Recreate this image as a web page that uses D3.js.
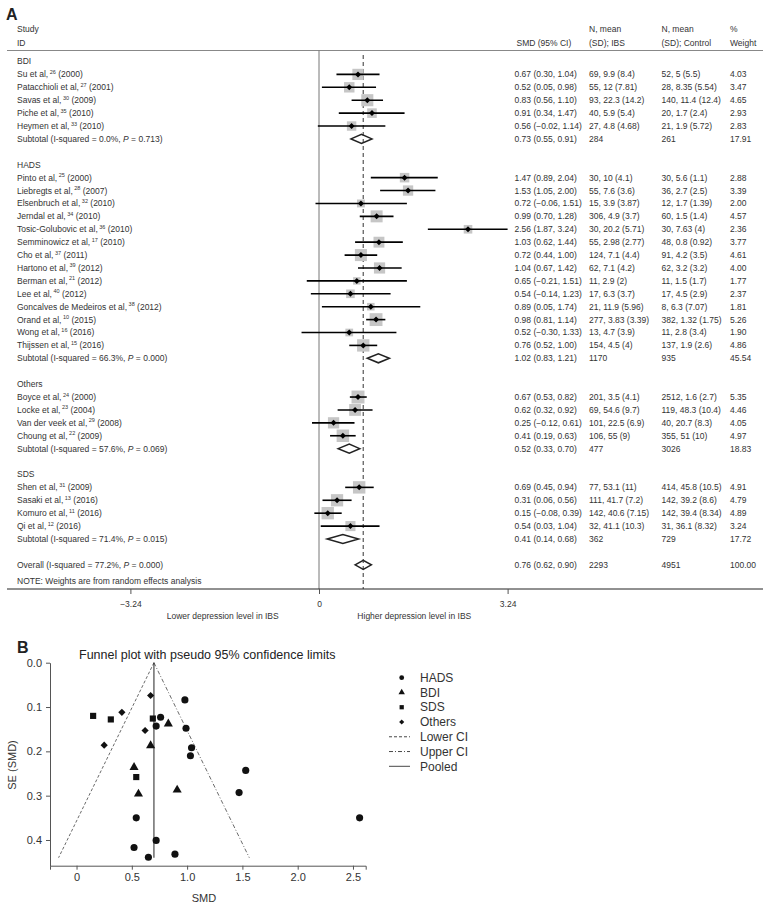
<!DOCTYPE html>
<html>
<head>
<meta charset="utf-8">
<script src="https://cdn.jsdelivr.net/npm/d3@7"></script>
<style>
  html, body { margin: 0; padding: 0; background: #fff; }
  svg text { font-family: "Liberation Sans", Arial, Helvetica, sans-serif; }
</style>
</head>
<body>
<svg id="chart" width="770" height="910"></svg>
<script>
// ---------------- DATA ----------------
const groupNames = ["BDI", "HADS", "Others", "SDS"];

const studyNames = [
  "Su et al,", "Patacchioli et al,", "Savas et al,", "Piche et al,", "Heymen et al,",
  "Pinto et al,", "Liebregts et al,", "Elsenbruch et al,", "Jerndal et al,", "Tosic-Golubovic et al,",
  "Semminowicz et al,", "Cho et al,", "Hartono et al,", "Berman et al,", "Lee et al,",
  "Goncalves de Medeiros et al,", "Orand et al,", "Wong et al,", "Thijssen et al,",
  "Boyce et al,", "Locke et al,", "Van der veek et al,", "Choung et al,",
  "Shen et al,", "Sasaki et al,", "Komuro et al,", "Qi et al,"
];
const studyRefs = ["26","27","30","35","33", "25","28","32","34","36","17","37","39","21","40","38","10","16","15", "24","23","29","22", "31","13","11","12"];
const studyYears = ["2000","2001","2009","2010","2010", "2000","2007","2010","2010","2010","2010","2011","2012","2012","2012","2012","2015","2016","2016", "2000","2004","2008","2009", "2009","2016","2016","2016"];
const studyGroup = ["BDI","BDI","BDI","BDI","BDI",
  "HADS","HADS","HADS","HADS","HADS","HADS","HADS","HADS","HADS","HADS","HADS","HADS","HADS","HADS",
  "Others","Others","Others","Others",
  "SDS","SDS","SDS","SDS"];
const smd    = [0.67, 0.52, 0.83, 0.91, 0.56, 1.47, 1.53, 0.72, 0.99, 2.56, 1.03, 0.72, 1.04, 0.65, 0.54, 0.89, 0.98, 0.52, 0.76, 0.67, 0.62, 0.25, 0.41, 0.69, 0.31, 0.15, 0.54];
const ciLow  = [0.30, 0.05, 0.56, 0.34, -0.02, 0.89, 1.05, -0.06, 0.70, 1.87, 0.62, 0.44, 0.67, -0.21, -0.14, 0.05, 0.81, -0.30, 0.52, 0.53, 0.32, -0.12, 0.19, 0.45, 0.06, -0.08, 0.03];
const ciHigh = [1.04, 0.98, 1.10, 1.47, 1.14, 2.04, 2.00, 1.51, 1.28, 3.24, 1.44, 1.00, 1.42, 1.51, 1.23, 1.74, 1.14, 1.33, 1.00, 0.82, 0.92, 0.61, 0.63, 0.94, 0.56, 0.39, 1.04];
const nIbs = ["69, 9.9 (8.4)", "55, 12 (7.81)", "93, 22.3 (14.2)", "40, 5.9 (5.4)", "27, 4.8 (4.68)",
  "30, 10 (4.1)", "55, 7.6 (3.6)", "15, 3.9 (3.87)", "306, 4.9 (3.7)", "30, 20.2 (5.71)", "55, 2.98 (2.77)",
  "124, 7.1 (4.4)", "62, 7.1 (4.2)", "11, 2.9 (2)", "17, 6.3 (3.7)", "21, 11.9 (5.96)", "277, 3.83 (3.39)",
  "13, 4.7 (3.9)", "154, 4.5 (4)",
  "201, 3.5 (4.1)", "69, 54.6 (9.7)", "101, 22.5 (6.9)", "106, 55 (9)",
  "77, 53.1 (11)", "111, 41.7 (7.2)", "142, 40.6 (7.15)", "32, 41.1 (10.3)"];
const nControl = ["52, 5 (5.5)", "28, 8.35 (5.54)", "140, 11.4 (12.4)", "20, 1.7 (2.4)", "21, 1.9 (5.72)",
  "30, 5.6 (1.1)", "36, 2.7 (2.5)", "12, 1.7 (1.39)", "60, 1.5 (1.4)", "30, 7.63 (4)", "48, 0.8 (0.92)",
  "91, 4.2 (3.5)", "62, 3.2 (3.2)", "11, 1.5 (1.7)", "17, 4.5 (2.9)", "8, 6.3 (7.07)", "382, 1.32 (1.75)",
  "11, 2.8 (3.4)", "137, 1.9 (2.6)",
  "2512, 1.6 (2.7)", "119, 48.3 (10.4)", "40, 20.7 (8.3)", "355, 51 (10)",
  "414, 45.8 (10.5)", "142, 39.2 (8.6)", "142, 39.4 (8.34)", "31, 36.1 (8.32)"];
const weights = [4.03, 3.47, 4.65, 2.93, 2.83, 2.88, 3.39, 2.00, 4.57, 2.36, 3.77, 4.61, 4.00, 1.77, 2.37, 1.81, 5.26, 1.90, 4.86, 5.35, 4.46, 4.05, 4.97, 4.91, 4.79, 4.89, 3.24];
// standard errors as plotted in the funnel plot
const studySE = [0.187, 0.236, 0.138, 0.287, 0.296, 0.293, 0.243, 0.401, 0.148, 0.350, 0.210, 0.143, 0.192, 0.439, 0.350, 0.432, 0.084, 0.417, 0.123, 0.074, 0.153, 0.186, 0.112, 0.126, 0.128, 0.120, 0.258];

const subI2    = ["0.0%", "66.3%", "57.6%", "71.4%"];
const subP     = ["0.713", "0.000", "0.069", "0.015"];
const subSmd   = [0.73, 1.02, 0.52, 0.41];
const subLow   = [0.55, 0.83, 0.33, 0.14];
const subHigh  = [0.91, 1.21, 0.70, 0.68];
const subNIbs  = ["284", "1170", "477", "362"];
const subNCtrl = ["261", "935", "3026", "729"];
const subW     = ["17.91", "45.54", "18.83", "17.72"];

const overall = { i2: "77.2%", p: "0.000", smd: 0.76, lo: 0.62, hi: 0.90, nIbs: "2293", nCtrl: "4951", w: "100.00" };

const forestTicks = [-3.24, 0, 3.24];
const funnelXTicks = [0, 0.5, 1.0, 1.5, 2.0, 2.5];
const funnelYTicks = [0, 0.1, 0.2, 0.3, 0.4];
const pooledSMD = 0.70;
const maxSE = 0.44;
const legendLabels = ["HADS", "BDI", "SDS", "Others", "Lower CI", "Upper CI", "Pooled"];

// ---------------- BUILD ----------------
const svg = d3.select("#chart");
const TXT = "#333";
const FS = 8.5;
const fmt = d3.format(".2f");

// ===== Panel A: forest plot =====
svg.append("text").attr("x", 6).attr("y", 20).attr("font-size", 16).attr("font-weight", "bold").attr("fill", "#222").text("A");

// rows
const rows = [];
groupNames.forEach((g, gi) => {
  rows.push({ type: "group", label: g });
  studyGroup.forEach((sg, i) => { if (sg === g) rows.push({ type: "study", i }); });
  rows.push({ type: "sub", gi });
  rows.push({ type: "blank" });
});
rows.push({ type: "overall" });

const x = d3.scaleLinear().domain([-3.24, 3.24]).range([130.4, 507.6]);
const y = d3.scaleLinear().domain([0, rows.length - 1]).range([61.5, 564.8]);

const colSMD = 514.5, colIbs = 589, colCtrl = 661.5, colW = 730;

// header
const hdr = svg.append("g").attr("font-size", FS).attr("fill", TXT);
hdr.append("text").attr("x", 17).attr("y", 29).attr("dy", "0.35em").text("Study");
hdr.append("text").attr("x", 17).attr("y", 43).attr("dy", "0.35em").text("ID");
hdr.append("text").attr("x", colSMD + 2).attr("y", 43).attr("dy", "0.35em").text("SMD (95% CI)");
hdr.append("text").attr("x", colIbs).attr("y", 29).attr("dy", "0.35em").text("N, mean");
hdr.append("text").attr("x", colIbs).attr("y", 43).attr("dy", "0.35em").text("(SD); IBS");
hdr.append("text").attr("x", colCtrl).attr("y", 29).attr("dy", "0.35em").text("N, mean");
hdr.append("text").attr("x", colCtrl).attr("y", 43).attr("dy", "0.35em").text("(SD); Control");
hdr.append("text").attr("x", colW).attr("y", 29).attr("dy", "0.35em").text("%");
hdr.append("text").attr("x", colW).attr("y", 43).attr("dy", "0.35em").text("Weight");
svg.append("line").attr("x1", 7).attr("x2", 763).attr("y1", 50.5).attr("y2", 50.5).attr("stroke", "#888").attr("stroke-width", 1);

// zero line & overall dashed line
svg.append("line").attr("x1", x(0)).attr("x2", x(0)).attr("y1", 50.5).attr("y2", 589).attr("stroke", "#777").attr("stroke-width", 1);
svg.append("line").attr("x1", x(overall.smd)).attr("x2", x(overall.smd)).attr("y1", 55).attr("y2", 589)
  .attr("stroke", "#555").attr("stroke-width", 1.2).attr("stroke-dasharray", "4,3");

const g = svg.append("g").attr("font-size", FS).attr("fill", TXT);

function labelWithSup(sel, name, ref, year) {
  const t = sel.append("text").attr("x", 17).attr("dy", "0.35em");
  t.append("tspan").text(name);
  t.append("tspan").attr("dx", 1.5).attr("dy", -3.5).attr("font-size", 5.5).text(ref);
  t.append("tspan").attr("dy", 3.5).text("\u00a0(" + year + ")");
  return t;
}
function labelWithP(sel, prefix, i2, p) {
  const t = sel.append("text").attr("x", 17).attr("dy", "0.35em");
  t.append("tspan").text(prefix + " (I-squared = " + i2 + ", ");
  t.append("tspan").attr("font-style", "italic").text("P");
  t.append("tspan").text(" = " + p + ")");
  return t;
}
function diamond(sel, yy, lo, mid, hi) {
  const h = 4.5;
  sel.append("path")
    .attr("d", `M${x(lo)},${yy} L${x(mid)},${yy - h} L${x(hi)},${yy} L${x(mid)},${yy + h} Z`)
    .attr("fill", "none").attr("stroke", "#222").attr("stroke-width", 1.5);
}
function numCols(sel, yy, a, b, c, d) {
  [[colSMD, a], [colIbs, b], [colCtrl, c], [colW, d]].forEach(([cx, v]) =>
    sel.append("text").attr("x", cx).attr("y", yy).attr("dy", "0.35em").text(v));
}

rows.forEach((r, ri) => {
  const yy = y(ri);
  const row = g.append("g");
  if (r.type === "group") {
    row.append("text").attr("x", 17).attr("y", yy).attr("dy", "0.35em").text(r.label);
  } else if (r.type === "study") {
    const i = r.i;
    labelWithSup(row, studyNames[i], studyRefs[i], studyYears[i]).attr("y", yy);
    const side = 5.6 * Math.sqrt(weights[i]);
    row.append("rect").attr("x", x(smd[i]) - side / 2).attr("y", yy - side / 2)
      .attr("width", side).attr("height", side).attr("fill", "#c6c6c6");
    row.append("line").attr("x1", x(ciLow[i])).attr("x2", x(ciHigh[i])).attr("y1", yy).attr("y2", yy)
      .attr("stroke", "#000").attr("stroke-width", 1.6);
    const dm = 3;
    row.append("path").attr("d", `M${x(smd[i]) - dm},${yy} L${x(smd[i])},${yy - dm} L${x(smd[i]) + dm},${yy} L${x(smd[i])},${yy + dm} Z`)
      .attr("fill", "#000");
    numCols(row, yy, `${fmt(smd[i])} (${fmt(ciLow[i])}, ${fmt(ciHigh[i])})`, nIbs[i], nControl[i], weights[i].toFixed(2));
  } else if (r.type === "sub") {
    const k = r.gi;
    labelWithP(row, "Subtotal", subI2[k], subP[k]).attr("y", yy);
    diamond(row, yy, subLow[k], subSmd[k], subHigh[k]);
    numCols(row, yy, `${fmt(subSmd[k])} (${fmt(subLow[k])}, ${fmt(subHigh[k])})`, subNIbs[k], subNCtrl[k], subW[k]);
  } else if (r.type === "overall") {
    labelWithP(row, "Overall", overall.i2, overall.p).attr("y", yy);
    diamond(row, yy, overall.lo, overall.smd, overall.hi);
    numCols(row, yy, `${fmt(overall.smd)} (${fmt(overall.lo)}, ${fmt(overall.hi)})`, overall.nIbs, overall.nCtrl, overall.w);
  }
});
g.append("text").attr("x", 17).attr("y", 581).attr("dy", "0.35em").text("NOTE: Weights are from random effects analysis");

// forest axis
svg.append("line").attr("x1", 7).attr("x2", 763).attr("y1", 589).attr("y2", 589).attr("stroke", "#222").attr("stroke-width", 1);
const fAxis = svg.append("g").attr("transform", "translate(0,589)")
  .call(d3.axisBottom(x).tickValues(forestTicks).tickSize(5).tickPadding(7).tickFormat(d => d === 0 ? "0" : fmt(d)));
fAxis.select(".domain").remove();
fAxis.selectAll(".tick line").attr("stroke", "#555");
fAxis.selectAll(".tick text").attr("font-size", FS).attr("fill", TXT).attr("font-family", "Liberation Sans, Arial, sans-serif");
svg.append("text").attr("x", (x(-3.24) + x(0)) / 2 - 2).attr("y", 615.7).attr("dy", "0.35em").attr("text-anchor", "middle")
  .attr("font-size", FS).attr("fill", TXT).text("Lower depression level in IBS");
svg.append("text").attr("x", (x(0) + x(3.24)) / 2 + 1).attr("y", 615.7).attr("dy", "0.35em").attr("text-anchor", "middle")
  .attr("font-size", FS).attr("fill", TXT).text("Higher depression level in IBS");

// ===== Panel B: funnel plot =====
svg.append("text").attr("x", 17).attr("y", 653).attr("font-size", 16).attr("font-weight", "bold").attr("fill", "#222").text("B");
svg.append("text").attr("x", 79).attr("y", 655).attr("dy", "0.35em").attr("font-size", 12.5).attr("fill", "#222")
  .text("Funnel plot with pseudo 95% confidence limits");

const fx = d3.scaleLinear().domain([-0.24, 2.615]).range([50, 365.7]);
const fy = d3.scaleLinear().domain([0, 0.458]).range([662.7, 865.7]);

const xAx = svg.append("g").attr("transform", `translate(0,${fy(0.458)})`)
  .call(d3.axisBottom(fx).tickValues(funnelXTicks).tickSize(4).tickSizeOuter(4).tickPadding(4)
    .tickFormat(d => d === 0 ? "0" : d3.format(".1f")(d)));
const yAx = svg.append("g").attr("transform", `translate(${fx(-0.24)},0)`)
  .call(d3.axisLeft(fy).tickValues(funnelYTicks).tickSize(4).tickSizeOuter(0).tickPadding(4)
    .tickFormat(d3.format(".1f")));
[xAx, yAx].forEach(a => {
  a.select(".domain").attr("stroke", "#555");
  a.selectAll(".tick line").attr("stroke", "#555");
  a.selectAll(".tick text").attr("font-size", 11).attr("fill", TXT).attr("font-family", "Liberation Sans, Arial, sans-serif");
});
svg.append("text").attr("x", 204).attr("y", 898).attr("dy", "0.35em").attr("text-anchor", "middle")
  .attr("font-size", 11).attr("fill", TXT).text("SMD");
svg.append("text").attr("transform", "translate(12,765) rotate(-90)").attr("dy", "0.35em").attr("text-anchor", "middle")
  .attr("font-size", 11).attr("fill", TXT).text("SE (SMD)");

// funnel lines
svg.append("line").attr("x1", fx(pooledSMD)).attr("y1", fy(0)).attr("x2", fx(pooledSMD - 1.96 * maxSE)).attr("y2", fy(maxSE))
  .attr("stroke", "#444").attr("stroke-width", 0.8).attr("stroke-dasharray", "3,2");
svg.append("line").attr("x1", fx(pooledSMD)).attr("y1", fy(0)).attr("x2", fx(pooledSMD + 1.96 * maxSE)).attr("y2", fy(maxSE))
  .attr("stroke", "#444").attr("stroke-width", 0.8).attr("stroke-dasharray", "4,2,1,2");
svg.append("line").attr("x1", fx(pooledSMD)).attr("y1", fy(0)).attr("x2", fx(pooledSMD)).attr("y2", fy(maxSE))
  .attr("stroke", "#222").attr("stroke-width", 1);

// marker shapes (diamond = square rotated 45°)
const symFor = { HADS: d3.symbolCircle, BDI: d3.symbolTriangle, SDS: d3.symbolSquare, Others: d3.symbolSquare };
const rotFor = { HADS: 0, BDI: 0, SDS: 0, Others: 45 };
const sizeFor = { HADS: 40, BDI: 36, SDS: 38, Others: 26 };
svg.append("g").selectAll("path").data(smd.map((v, i) => i)).join("path")
  .attr("transform", i => `translate(${fx(smd[i])},${fy(studySE[i])}) rotate(${rotFor[studyGroup[i]]})`)
  .attr("d", i => d3.symbol().type(symFor[studyGroup[i]]).size(sizeFor[studyGroup[i]])())
  .attr("fill", "#111");

// legend
const lg = svg.append("g");
const legY = d3.scaleLinear().domain([0, 6]).range([677.7, 766.3]);
const legStyles = [null, null, null, null, "3,2", "4,2,1,2", null];
legendLabels.forEach((lab, i) => {
  const yy = legY(i);
  if (i < 4) {
    lg.append("path").attr("transform", `translate(401.7,${yy}) rotate(${rotFor[lab]})`)
      .attr("d", d3.symbol().type(symFor[lab]).size(lab === "Others" ? 13 : 18)()).attr("fill", "#111");
  } else {
    const ln = lg.append("line").attr("x1", 389).attr("x2", 410).attr("y1", yy).attr("y2", yy)
      .attr("stroke", "#333").attr("stroke-width", 0.9);
    if (legStyles[i]) ln.attr("stroke-dasharray", legStyles[i]);
  }
  lg.append("text").attr("x", 420).attr("y", yy).attr("dy", "0.35em").attr("font-size", 12).attr("fill", TXT).text(lab);
});
</script>
</body>
</html>
